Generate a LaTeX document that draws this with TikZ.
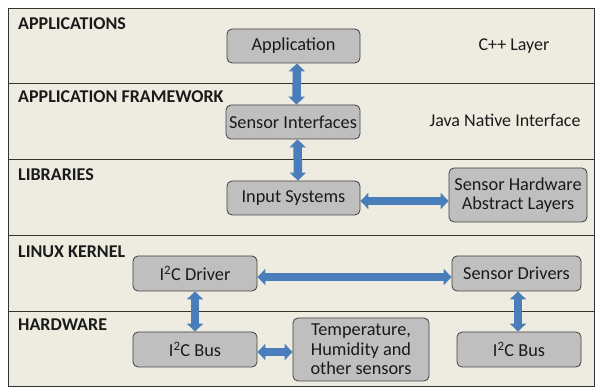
\documentclass[tikz,border=0pt]{standalone}
\usepackage{fontspec}
\setmainfont{Carlito}
\usetikzlibrary{arrows.meta,calc}
\definecolor{bg}{HTML}{EEECE1}
\definecolor{boxfill}{HTML}{BFBFBF}
\definecolor{boxline}{HTML}{404040}
\definecolor{arrowblue}{HTML}{4A7EBB}
\definecolor{txt}{HTML}{1A1A1A}
\tikzset{
  layerbox/.style={draw=boxline, line width=0.8pt, fill=boxfill, rounded corners=5pt, inner sep=0pt, align=center, font=\fontsize{18.3}{19.5}\selectfont, text=txt},
  layerlabel/.style={anchor=base west, inner sep=0pt, font=\fontsize{18}{20}\selectfont\bfseries, text=txt},
  sidenote/.style={inner sep=0pt, anchor=base, font=\fontsize{18}{20}\selectfont, text=txt},
  blockarrow/.style={draw=arrowblue, line width=8.5pt, {Triangle[width=16pt,length=8pt]}-{Triangle[width=16pt,length=8pt]}},
  sepline/.style={draw=black!80, line width=0.9pt}
}
\begin{document}
\begin{tikzpicture}[x=1pt,y=-1pt]
\useasboundingbox (0,0) rectangle (595,387);
\fill[white] (0,0) rectangle (595,387);
\draw[fill=bg, draw=black!80, line width=0.9pt] (8,8) rectangle (594,386);
\draw[sepline] (8,83.5) -- (594,83.5);
\draw[sepline] (8,159) -- (594,159);
\draw[sepline] (8,235) -- (594,235);
\draw[sepline] (8,311) -- (594,311);

\node[layerlabel] (l1) at (18,30) {APPLICATIONS};
\node[layerlabel] (l2) at (18,103) {APPLICATION FRAMEWORK};
\node[layerlabel] (l3) at (18,181) {LIBRARIES};
\node[layerlabel] (l4) at (18,258) {LINUX KERNEL};
\node[layerlabel] (l5) at (18,331) {HARDWARE};

\node[sidenote] (cpp) at (514,51) {C++ Layer};
\node[sidenote] (jni) at (505,127) {Java Native Interface};

\node[layerbox, minimum width=133pt, minimum height=34pt] (app) at (293.5,46) {Application};
\node[layerbox, minimum width=134pt, minimum height=34pt] (si) at (293,122) {Sensor Interfaces};
\node[layerbox, minimum width=133pt, minimum height=34pt] (is) at (293.5,198) {Input Systems};
\node[layerbox, minimum width=138pt, minimum height=54pt] (shal) at (518,195) {Sensor Hardware\\Abstract Layers};
\node[layerbox, minimum width=124pt, minimum height=35pt] (drv) at (195,273.5) {I\textsuperscript{2}C Driver};
\node[layerbox, minimum width=129pt, minimum height=35pt] (sd) at (516.5,273.5) {Sensor Drivers};
\node[layerbox, minimum width=124pt, minimum height=35pt] (bus1) at (195,349.5) {I\textsuperscript{2}C Bus};
\node[layerbox, minimum width=136pt, minimum height=63pt] (temp) at (361,349.5) {Temperature,\\Humidity and\\other sensors};
\node[layerbox, minimum width=124pt, minimum height=35pt] (bus2) at (519,349.5) {I\textsuperscript{2}C Bus};

\draw[blockarrow] ([xshift=3.5pt]app.south) -- ([xshift=3.5pt]si.north);
\draw[blockarrow] ([xshift=4.5pt]si.north |- si.south) -- ([xshift=4.5pt]is.north);
\draw[blockarrow] ([yshift=-3pt]is.east) -- ([yshift=-3pt]is.east -| shal.west);
\draw[blockarrow] ([yshift=-3.5pt]drv.east) -- ([yshift=-3.5pt]drv.east -| sd.west);
\draw[blockarrow] (drv.south) -- (bus1.north);
\draw[blockarrow] ([yshift=-2.5pt]bus1.east) -- ([yshift=-2.5pt]bus1.east -| temp.west);
\draw[blockarrow] ([xshift=1.5pt]sd.south) -- ([xshift=1.5pt]sd.south |- bus2.north);
\end{tikzpicture}
\end{document}
